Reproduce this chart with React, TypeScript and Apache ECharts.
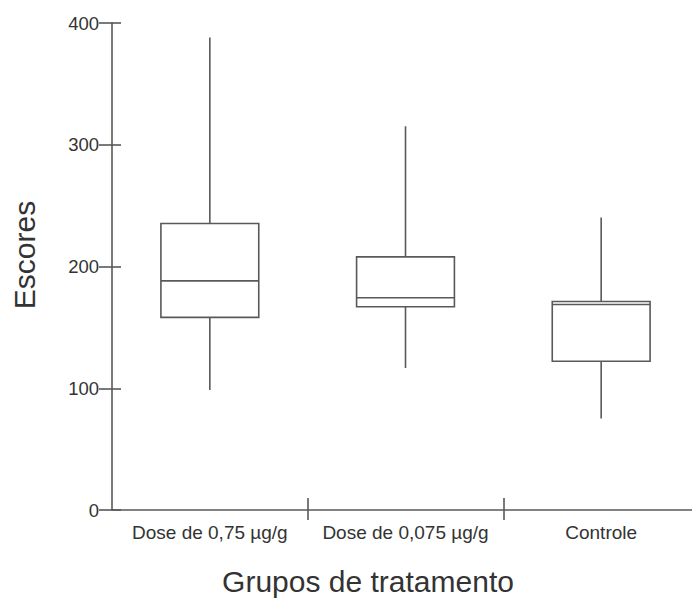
import React, { useEffect, useRef } from "react";
import * as echarts from "echarts";

const categories = ["Dose de 0,75 µg/g", "Dose de 0,075 µg/g", "Controle"];
const lowValues = [98.5, 116.6, 75.1];
const q1Values = [158.2, 166.9, 122.2];
const medianValues = [188.2, 174.3, 168.8];
const q3Values = [235.3, 207.9, 171.3];
const highValues = [388.0, 315.2, 240.3];
const yTicks = { min: 0, max: 400, interval: 100 };

const FONT = "'Liberation Sans', Arial, sans-serif";
const LINE = "#595959";
const TEXT = "#333333";

export default function App() {
  const ref = useRef<HTMLDivElement>(null);
  useEffect(() => {
    if (!ref.current) return;
    const chart = echarts.init(ref.current, null, { renderer: "svg" });
    const data = categories.map((_, i) => [
      i,
      lowValues[i],
      q1Values[i],
      medianValues[i],
      q3Values[i],
      highValues[i],
    ]);
    chart.setOption({
      animation: false,
      backgroundColor: "#ffffff",
      grid: { left: 112, top: 23, width: 587, height: 487, outerBoundsMode: "none" },
      xAxis: [
        {
          type: "category",
          data: categories,
          boundaryGap: true,
          axisLine: { show: true, lineStyle: { color: LINE, width: 1.6 } },
          axisTick: { show: true, inside: false, length: 10, interval: (i: number) => i > 0, lineStyle: { color: LINE, width: 1.6 } },
          axisLabel: { color: TEXT, fontSize: 19, fontFamily: FONT, margin: 13, interval: 0 },
          splitLine: { show: false },
        },
        {
          type: "category",
          data: categories,
          boundaryGap: true,
          position: "bottom",
          axisLine: { show: false },
          axisTick: { show: true, inside: true, length: 12, interval: (i: number) => i > 0, lineStyle: { color: LINE, width: 1.6 } },
          axisLabel: { show: false },
          splitLine: { show: false },
        },
      ],
      yAxis: [
        {
          type: "value",
          min: yTicks.min,
          max: yTicks.max,
          interval: yTicks.interval,
          axisLine: { show: true, lineStyle: { color: LINE, width: 1.6 } },
          axisTick: { show: true, inside: false, length: 13, lineStyle: { color: LINE, width: 1.6 } },
          axisLabel: { color: TEXT, fontSize: 18.5, fontFamily: FONT, margin: 13 },
          splitLine: { show: false },
        },
        {
          type: "value",
          min: yTicks.min,
          max: yTicks.max,
          interval: yTicks.interval,
          position: "left",
          axisLine: { show: false },
          axisTick: { show: true, inside: true, length: 9, lineStyle: { color: LINE, width: 1.6 } },
          axisLabel: { show: false },
          splitLine: { show: false },
        },
      ],
      graphic: [
        {
          type: "text",
          x: 24,
          y: 255,
          rotation: Math.PI / 2,
          style: {
            text: "Escores",
            fontSize: 30,
            fontFamily: FONT,
            fill: TEXT,
            textAlign: "center",
            textVerticalAlign: "middle",
          },
        },
        {
          type: "text",
          x: 368,
          y: 581,
          style: {
            text: "Grupos de tratamento",
            fontSize: 30,
            fontFamily: FONT,
            fill: TEXT,
            textAlign: "center",
            textVerticalAlign: "middle",
          },
        },
      ],
      series: [
        {
          type: "custom",
          xAxisIndex: 0,
          yAxisIndex: 0,
          data,
          encode: { x: 0, y: [1, 2, 3, 4, 5] },
          renderItem: (params: any, api: any) => {
            const x = api.value(0);
            const pLow = api.coord([x, api.value(1)]);
            const pQ1 = api.coord([x, api.value(2)]);
            const pMed = api.coord([x, api.value(3)]);
            const pQ3 = api.coord([x, api.value(4)]);
            const pHigh = api.coord([x, api.value(5)]);
            const bw = api.size([1, 0])[0] * 0.5;
            const cx = pLow[0];
            const st = { stroke: LINE, lineWidth: 1.6, fill: "none" };
            return {
              type: "group",
              children: [
                { type: "line", shape: { x1: cx, y1: pHigh[1], x2: cx, y2: pQ3[1] }, style: st },
                { type: "line", shape: { x1: cx, y1: pQ1[1], x2: cx, y2: pLow[1] }, style: st },
                {
                  type: "rect",
                  shape: { x: cx - bw / 2, y: pQ3[1], width: bw, height: pQ1[1] - pQ3[1] },
                  style: { stroke: LINE, lineWidth: 1.6, fill: "#ffffff" },
                },
                { type: "line", shape: { x1: cx - bw / 2, y1: pMed[1], x2: cx + bw / 2, y2: pMed[1] }, style: st },
              ],
            };
          },
        },
      ],
    });
    return () => chart.dispose();
  }, []);
  return (
    <div
      ref={ref}
      style={{ position: "fixed", left: 0, top: 0, width: 692, height: 599, background: "#fff" }}
    />
  );
}
